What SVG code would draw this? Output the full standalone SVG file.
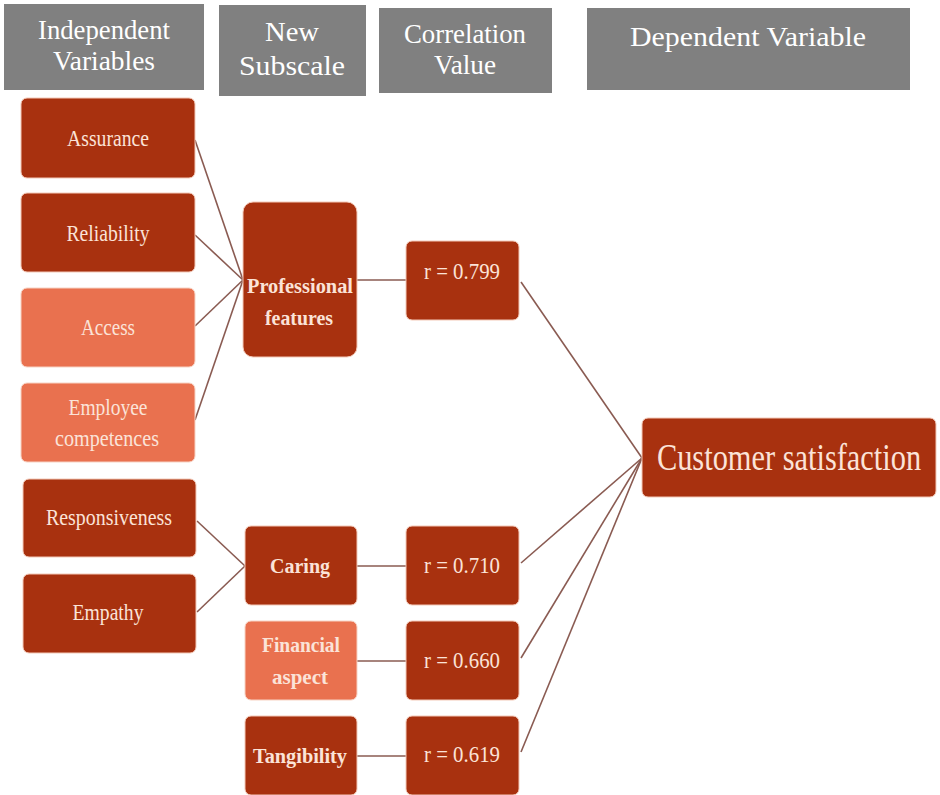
<svg xmlns="http://www.w3.org/2000/svg" width="940" height="795" viewBox="0 0 940 795">
<style>
.hdr{fill:#808080}
.ht{fill:#ffffff;font-family:"Liberation Serif",serif;font-size:28px;text-anchor:middle}
.dk{fill:#A8310F;stroke:#F3C9B8;stroke-width:1}
.lt{fill:#E9714F;stroke:#F7D3C4;stroke-width:1}
.t{fill:#FBE3D8;font-family:"Liberation Serif",serif;font-size:23px;text-anchor:middle}
.b{font-weight:bold;font-size:22px}
.c{stroke:#8A5B52;stroke-width:1.6;fill:none}
</style>
<rect width="940" height="795" fill="#ffffff"/>
<g id="headers">
<g id="h1"><rect class="hdr" x="4" y="4" width="200" height="86"/><text class="ht" x="104" y="39" textLength="132" lengthAdjust="spacingAndGlyphs">Independent</text><text class="ht" x="104" y="70" textLength="102" lengthAdjust="spacingAndGlyphs">Variables</text></g>
<g id="h2"><rect class="hdr" x="219" y="5" width="147" height="91"/><text class="ht" x="292" y="41" textLength="54" lengthAdjust="spacingAndGlyphs">New</text><text class="ht" x="292" y="75" textLength="106" lengthAdjust="spacingAndGlyphs">Subscale</text></g>
<g id="h3"><rect class="hdr" x="379" y="8" width="173" height="85"/><text class="ht" x="465" y="43" textLength="122" lengthAdjust="spacingAndGlyphs">Correlation</text><text class="ht" x="465" y="74" textLength="62" lengthAdjust="spacingAndGlyphs">Value</text></g>
<g id="h4"><rect class="hdr" x="587" y="8" width="323" height="82"/><text class="ht" x="748" y="46" textLength="236" lengthAdjust="spacingAndGlyphs">Dependent Variable</text></g>
</g>
<g id="connectors">
<line class="c" x1="195" y1="140" x2="243" y2="280"/>
<line class="c" x1="195" y1="235" x2="243" y2="280"/>
<line class="c" x1="195" y1="326" x2="243" y2="280"/>
<line class="c" x1="195" y1="420" x2="243" y2="280"/>
<line class="c" x1="357" y1="280" x2="406" y2="280"/>
<line class="c" x1="197" y1="521" x2="245" y2="566"/>
<line class="c" x1="197" y1="612" x2="245" y2="566"/>
<line class="c" x1="357" y1="566" x2="406" y2="566"/>
<line class="c" x1="357" y1="661" x2="406" y2="661"/>
<line class="c" x1="357" y1="756" x2="406" y2="756"/>
<line class="c" x1="521" y1="282" x2="642" y2="458"/>
<line class="c" x1="521" y1="563" x2="642" y2="458"/>
<line class="c" x1="521" y1="658" x2="642" y2="458"/>
<line class="c" x1="521" y1="752" x2="642" y2="458"/>
</g>
<g id="assurance"><rect class="dk" x="21" y="98" width="174" height="80" rx="6"/><text class="t" x="108" y="146" textLength="82" lengthAdjust="spacingAndGlyphs">Assurance</text></g>
<g id="reliability"><rect class="dk" x="21" y="193" width="174" height="79" rx="6"/><text class="t" x="108" y="241" textLength="83" lengthAdjust="spacingAndGlyphs">Reliability</text></g>
<g id="access"><rect class="lt" x="21" y="288" width="174" height="79" rx="6"/><text class="t" x="108" y="335" textLength="54" lengthAdjust="spacingAndGlyphs">Access</text></g>
<g id="employee"><rect class="lt" x="21" y="383" width="174" height="79" rx="6"/><text class="t" x="108" y="415" textLength="79" lengthAdjust="spacingAndGlyphs">Employee</text><text class="t" x="107" y="446" textLength="104" lengthAdjust="spacingAndGlyphs">competences</text></g>
<g id="responsiveness"><rect class="dk" x="23" y="479" width="173" height="78" rx="6"/><text class="t" x="109" y="525" textLength="126" lengthAdjust="spacingAndGlyphs">Responsiveness</text></g>
<g id="empathy"><rect class="dk" x="23" y="574" width="173" height="79" rx="6"/><text class="t" x="108" y="620" textLength="71" lengthAdjust="spacingAndGlyphs">Empathy</text></g>
<g id="professional"><rect class="dk" x="243" y="202" width="114" height="155" rx="10"/><text class="t b" x="300" y="293" textLength="106" lengthAdjust="spacingAndGlyphs">Professional</text><text class="t b" x="299" y="325" textLength="68" lengthAdjust="spacingAndGlyphs">features</text></g>
<g id="caring"><rect class="dk" x="245" y="526" width="112" height="79" rx="6"/><text class="t b" x="300" y="573" textLength="60" lengthAdjust="spacingAndGlyphs">Caring</text></g>
<g id="financial"><rect class="lt" x="245" y="621" width="112" height="79" rx="6"/><text class="t b" x="301" y="652" textLength="78" lengthAdjust="spacingAndGlyphs">Financial</text><text class="t b" x="300" y="684" textLength="56" lengthAdjust="spacingAndGlyphs">aspect</text></g>
<g id="tangibility"><rect class="dk" x="245" y="716" width="112" height="79" rx="6"/><text class="t b" x="300" y="763" textLength="94" lengthAdjust="spacingAndGlyphs">Tangibility</text></g>
<g id="r799"><rect class="dk" x="406" y="241" width="113" height="79" rx="6"/><text class="t" x="462" y="279" textLength="76" lengthAdjust="spacingAndGlyphs">r = 0.799</text></g>
<g id="r710"><rect class="dk" x="406" y="526" width="113" height="79" rx="6"/><text class="t" x="462" y="573" textLength="76" lengthAdjust="spacingAndGlyphs">r = 0.710</text></g>
<g id="r660"><rect class="dk" x="406" y="621" width="113" height="79" rx="6"/><text class="t" x="462" y="668" textLength="76" lengthAdjust="spacingAndGlyphs">r = 0.660</text></g>
<g id="r619"><rect class="dk" x="406" y="716" width="113" height="79" rx="6"/><text class="t" x="462" y="762" textLength="76" lengthAdjust="spacingAndGlyphs">r = 0.619</text></g>
<g id="customer"><rect class="dk" x="642" y="418" width="294" height="79" rx="6"/><text class="t" transform="translate(789,470) scale(0.8,1)" x="0" y="0" style="font-size:38px">Customer satisfaction</text></g>
</svg>
